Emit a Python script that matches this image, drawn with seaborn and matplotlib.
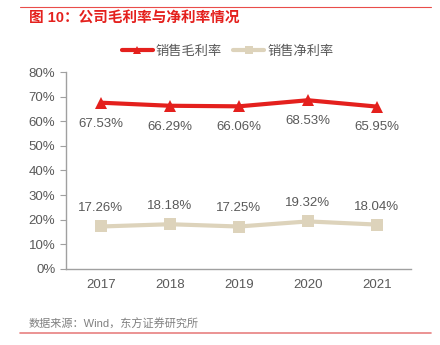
import matplotlib
matplotlib.use("Agg")
import matplotlib.pyplot as plt
import seaborn as sns
import pandas as pd
from matplotlib.lines import Line2D

years = ["2017", "2018", "2019", "2020", "2021"]
gross = [67.53, 66.29, 66.06, 68.53, 65.95]
net = [17.26, 18.18, 17.25, 19.32, 18.04]
yticks = [0, 10, 20, 30, 40, 50, 60, 70, 80]

sns.set_theme(style="white")
plt.rcParams['font.family'] = ['Liberation Sans', 'Noto Sans CJK SC', 'DejaVu Sans']

red = "#E4201D"
beige = "#DDD3BB"
gray = "#595959"

df = pd.DataFrame({"year": years * 2,
                   "val": gross + net,
                   "series": ["销售毛利率"] * 5 + ["销售净利率"] * 5})

fig = plt.figure(figsize=(4.4, 3.45), dpi=100)
ax = fig.add_axes([0.151, 0.2203, 0.784, 0.571])

sns.lineplot(data=df, x="year", y="val", hue="series", style="series",
             palette={"销售毛利率": red, "销售净利率": beige},
             markers={"销售毛利率": "^", "销售净利率": "s"},
             dashes=False, markersize=8, linewidth=3, markeredgewidth=0,
             ax=ax, legend=False, sort=False)

ax.set_xlim(-0.5, 4.5)
ax.set_ylim(0, 80)
ax.set_yticks(yticks)
ax.set_yticklabels([f"{v}%" for v in yticks], fontsize=9.5, color=gray)
ax.tick_params(axis="x", length=0, labelsize=9.5, labelcolor=gray, pad=7)
ax.tick_params(axis="y", left=True, length=4, width=0.8, color="#A0A0A0", pad=4)
ax.set_xlabel("")
ax.set_ylabel("")
for s in ["top", "right"]:
    ax.spines[s].set_visible(False)
for s in ["left", "bottom"]:
    ax.spines[s].set_color("#A0A0A0")
    ax.spines[s].set_linewidth(1.0)

for i, v in enumerate(gross):
    ax.annotate(f"{v:.2f}%", (i, v), xytext=(0, -15), textcoords="offset points",
                ha="center", va="center", fontsize=9.5, color=gray)
for i, v in enumerate(net):
    ax.annotate(f"{v:.2f}%", (i, v), xytext=(0, 13), textcoords="offset points",
                ha="center", va="center", fontsize=9.5, color=gray)

handles = [Line2D([0], [0], color=red, lw=3, marker="^", markersize=6, markeredgewidth=0),
           Line2D([0], [0], color=beige, lw=3, marker="s", markersize=6, markeredgewidth=0)]
fig.legend(handles, ["销售毛利率", "销售净利率"], loc="center", bbox_to_anchor=(0.517, 0.85),
           ncol=2, frameon=False, fontsize=9.5, handlelength=2.4, columnspacing=0.8,
           handletextpad=0.2, labelcolor=gray)

fig.text(0.066, 0.948, "图 10：公司毛利率与净利率情况", color=red, fontsize=10.5,
         fontweight="bold", ha="left", va="center")
fig.add_artist(Line2D([0.045, 0.98], [0.98, 0.98], color="#E4201D", lw=0.8, alpha=0.8))
fig.text(0.064, 0.061, "数据来源：Wind，东方证券研究所", color="#808080", fontsize=8,
         ha="left", va="center")
fig.add_artist(Line2D([0.045, 0.98], [0.035, 0.035], color="#E88080", lw=1.2))

fig.savefig("out.png", dpi=100)
